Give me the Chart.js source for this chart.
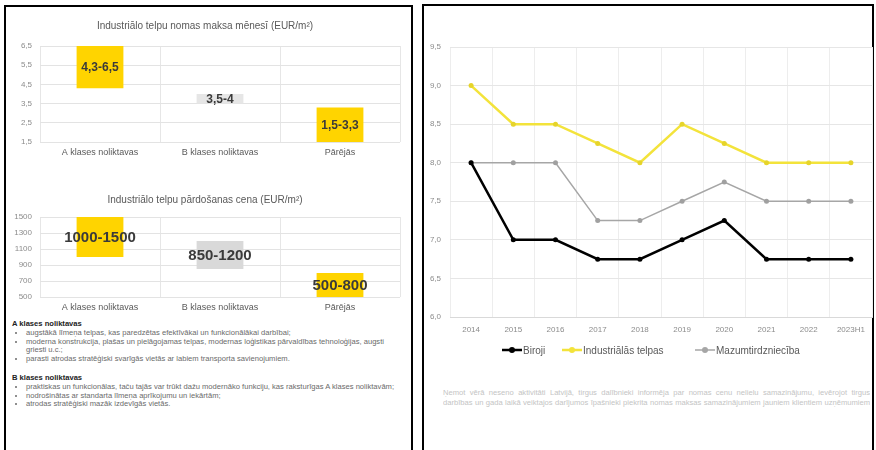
<!DOCTYPE html>
<html><head><meta charset="utf-8">
<script src="https://cdn.jsdelivr.net/npm/chart.js@4"></script>
<style>
body{margin:0;width:876px;height:450px;overflow:hidden;background:#fff;font-family:"Liberation Sans",Arial,sans-serif;position:relative}
.panel{position:absolute;border:2px solid #000;background:#fff}
canvas{position:absolute}
.notes{position:absolute;left:12px;top:320px;width:394px;font-size:7.6px;line-height:8.8px;color:#6a6a6a}
.notes b{color:#222;display:block}
.notes ul{margin:0;padding:0 0 0 14px}
.notes li{margin:0}
.notes .gap{height:10px}
.foot{position:absolute;left:443px;top:388px;width:427px;font-size:7.6px;line-height:10px;color:#c4c4c4}
.foot div{text-align:justify;text-align-last:justify;white-space:nowrap;overflow:hidden}
</style></head>
<body>
<div class="panel" style="left:4px;top:5px;width:405px;height:460px"></div>
<div class="panel" style="left:422px;top:4px;width:448px;height:460px"></div>
<canvas id="c1" width="400" height="152" style="left:10px;top:14px"></canvas>
<canvas id="c2" width="400" height="130" style="left:10px;top:186px"></canvas>
<canvas id="c3" width="451" height="360" style="left:425px;top:10px"></canvas>
<div class="notes">
<b>A klases noliktavas</b>
<ul>
<li>augstākā līmeņa telpas, kas paredzētas efektīvākai un funkcionālākai darbībai;</li>
<li>moderna konstrukcija, plašas un pielāgojamas telpas, modernas loģistikas pārvaldības tehnoloģijas, augsti griesti u.c.;</li>
<li>parasti atrodas stratēģiski svarīgās vietās ar labiem transporta savienojumiem.</li>
</ul>
<div class="gap"></div>
<b>B klases noliktavas</b>
<ul>
<li>praktiskas un funkcionālas, taču tajās var trūkt dažu modernāko funkciju, kas raksturīgas A klases noliktavām;</li>
<li>nodrošinātas ar standarta līmeņa aprīkojumu un iekārtām;</li>
<li>atrodas stratēģiski mazāk izdevīgās vietās.</li>
</ul>
</div>
<div class="foot">
<div>Ņemot vērā neseno aktivitāti Latvijā, tirgus dalībnieki informēja par nomas cenu nelielu samazinājumu, ievērojot tirgus</div>
<div>darbības un gada laikā veiktajos darījumos īpašnieki piekrita nomas maksas samazinājumiem jauniem klientiem uzņēmumiem</div>
</div>
<script>
// ---- data ----
const rentCategories = ["A klases noliktavas", "B klases noliktavas", "Pārējās"];
const rentRanges = [[4.3, 6.5], [3.5, 4], [1.5, 3.3]];
const rentLabels = ["4,3-6,5", "3,5-4", "1,5-3,3"];
const saleCategories = ["A klases noliktavas", "B klases noliktavas", "Pārējās"];
const saleRanges = [[1000, 1500], [850, 1200], [500, 800]];
const saleLabels = ["1000-1500", "850-1200", "500-800"];
const years = ["2014", "2015", "2016", "2017", "2018", "2019", "2020", "2021", "2022", "2023H1"];
const biroji = [8.0, 7.0, 7.0, 6.75, 6.75, 7.0, 7.25, 6.75, 6.75, 6.75];
const industrialas = [9.0, 8.5, 8.5, 8.25, 8.0, 8.5, 8.25, 8.0, 8.0, 8.0];
const mazumtirdznieciba = [8.0, 8.0, 8.0, 7.25, 7.25, 7.5, 7.75, 7.5, 7.5, 7.5];
const seriesNames = ["Biroji", "Industriālās telpas", "Mazumtirdzniecība"];

const FONT = '"Liberation Sans", Arial, sans-serif';
const YEL = '#FFD400', GREY = '#D9D9D9';
const comma = v => Number(v).toFixed(1).replace('.', ',');

const barLabelPlugin = {
  id: 'barLabels',
  afterDatasetsDraw(chart, args, opts) {
    const ctx = chart.ctx;
    const meta = chart.getDatasetMeta(0);
    ctx.save();
    ctx.font = 'bold ' + opts.size + 'px ' + FONT;
    ctx.fillStyle = '#3a3a3a';
    ctx.textAlign = 'center';
    ctx.textBaseline = 'middle';
    meta.data.forEach((el, i) => {
      const p = el.getProps(['x', 'y', 'base'], true);
      ctx.fillText(opts.labels[i], p.x, (p.y + p.base) / 2 + 1);
    });
    ctx.restore();
  }
};

function rangeChart(id, cats, ranges, labels, title, min, max, step, fmt, size, colors, titlePad, yW, xH, padB) {
  return new Chart(document.getElementById(id), {
    type: 'bar',
    data: { labels: cats, datasets: [{ data: ranges, backgroundColor: colors, barPercentage: 0.39, categoryPercentage: 1 }] },
    options: {
      responsive: false, animation: false,
      layout: { padding: { left: 0, right: 10, top: 0, bottom: padB } },
      plugins: {
        legend: { display: false }, tooltip: { enabled: false },
        title: { display: true, text: title, color: '#595959', font: { family: FONT, size: 10, weight: 'normal' }, padding: titlePad },
        barLabels: { labels: labels, size: size }
      },
      scales: {
        x: {
          grid: { color: '#E6E6E6', offset: true, drawTicks: false },
          border: { display: false },
          ticks: { color: '#595959', font: { family: FONT, size: 9 }, padding: 5 },
          afterFit(s) { s.height = xH; }
        },
        y: {
          min: min, max: max,
          grid: { color: '#E3E3E3', drawTicks: false },
          border: { display: false },
          ticks: { stepSize: step, color: '#8C8C8C', font: { family: FONT, size: 8 }, padding: 8, callback: fmt },
          afterFit(s) { s.width = yW; }
        }
      }
    },
    plugins: [barLabelPlugin]
  });
}

rangeChart('c1', rentCategories, rentRanges, rentLabels, 'Industriālo telpu nomas maksa mēnesī (EUR/m²)',
  1.5, 6.5, 1, v => comma(v), 12, [YEL, '#E6E6E6', YEL], { top: 6, bottom: 14 }, 30, 20, 4);
rangeChart('c2', saleCategories, saleRanges, saleLabels, 'Industriālo telpu pārdošanas cena (EUR/m²)',
  500, 1500, 200, v => v, 15, [YEL, GREY, YEL], { top: 8, bottom: 11 }, 30, 16, 3);

const lineLegend = {
  id: 'lineLegend',
  afterDraw(chart) {
    const ctx = chart.ctx;
    ctx.save();
    ctx.font = '10px ' + FONT;
    ctx.textBaseline = 'middle';
    const y = 340;
    const starts = [77, 137, 270];
    chart.data.datasets.forEach((ds, i) => {
      const x = starts[i];
      ctx.strokeStyle = ds.borderColor; ctx.lineWidth = ds.borderWidth;
      ctx.beginPath(); ctx.moveTo(x, y); ctx.lineTo(x + 20, y); ctx.stroke();
      ctx.fillStyle = ds.borderColor;
      ctx.beginPath(); ctx.arc(x + 10, y, ds.pointRadius + 0.5, 0, Math.PI * 2); ctx.fill();
      ctx.fillStyle = '#595959';
      ctx.fillText(ds.label, x + 21, y + 1);
    });
    ctx.restore();
  }
};

new Chart(document.getElementById('c3'), {
  type: 'line',
  data: {
    labels: years,
    datasets: [
      { label: seriesNames[0], data: biroji, borderColor: '#000000', backgroundColor: '#000000', borderWidth: 2.5, pointRadius: 2.5, pointBackgroundColor: '#000', pointBorderWidth: 0 },
      { label: seriesNames[1], data: industrialas, borderColor: '#F3E33B', backgroundColor: '#F3E33B', borderWidth: 2.5, pointRadius: 2.5, pointBackgroundColor: '#E6D42A', pointBorderWidth: 0 },
      { label: seriesNames[2], data: mazumtirdznieciba, borderColor: '#A6A6A6', backgroundColor: '#A6A6A6', borderWidth: 1.5, pointRadius: 2.5, pointBackgroundColor: '#A0A0A0', pointBorderWidth: 0 }
    ]
  },
  options: {
    responsive: false, animation: false,
    layout: { padding: { left: 0, right: 0, top: 37, bottom: 33 } },
    plugins: { legend: { display: false }, tooltip: { enabled: false } },
    scales: {
      x: {
        offset: true,
        grid: { color: '#EDEDED', offset: true, drawTicks: false },
        border: { display: true, color: '#D9D9D9' },
        ticks: { color: '#8C8C8C', font: { family: FONT, size: 8 }, padding: 8, maxRotation: 0 },
        afterFit(s) { s.height = 20; }
      },
      y: {
        min: 6, max: 9.5,
        grid: { color: '#E6E6E6', drawTicks: false },
        border: { display: false },
        ticks: { stepSize: 0.5, color: '#8C8C8C', font: { family: FONT, size: 8 }, padding: 9, callback: v => comma(v) },
        afterFit(s) { s.width = 25; }
      }
    }
  },
  plugins: [lineLegend]
});
</script>
</body></html>
